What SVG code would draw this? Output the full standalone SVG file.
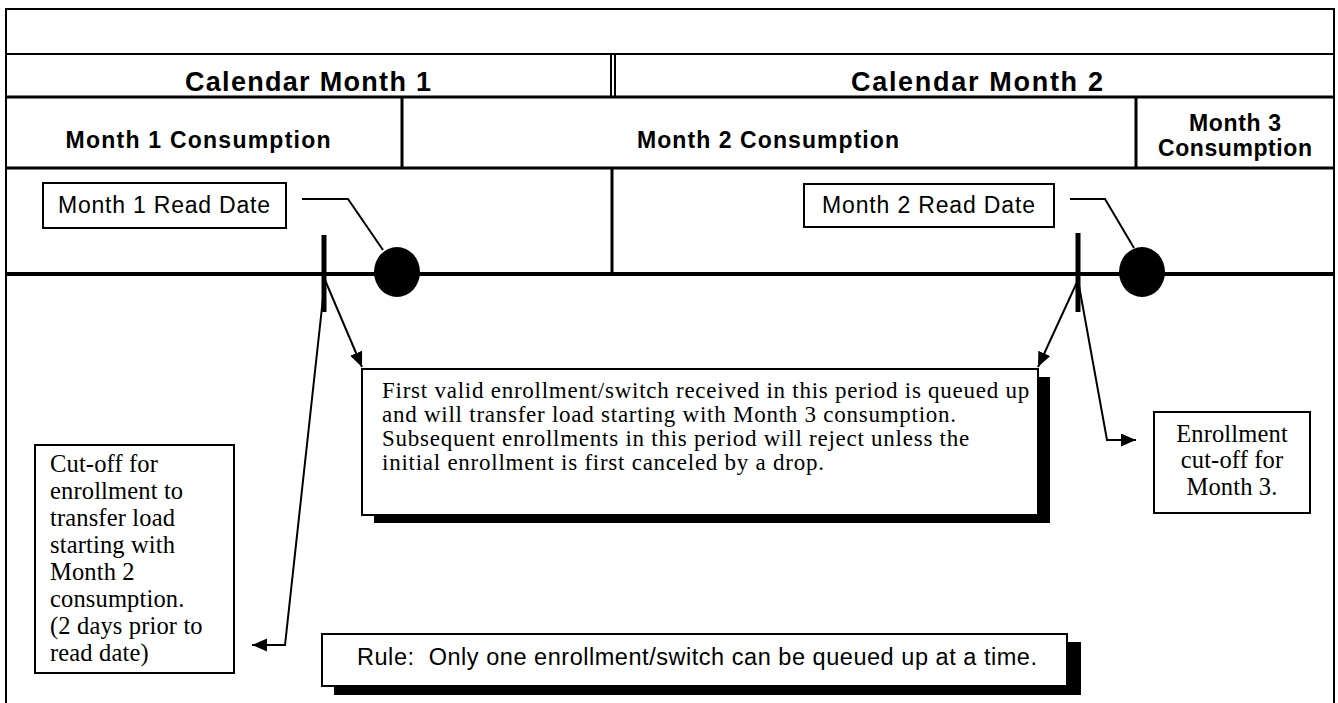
<svg xmlns="http://www.w3.org/2000/svg" width="1338" height="703" viewBox="0 0 1338 703">
  <style>
    .ln { fill: none; stroke: #000; stroke-width: 2; }
    .thick { fill: none; stroke: #000; stroke-width: 3; }
    .box { fill: #fff; stroke: #000; stroke-width: 2; }
    .shadow { fill: #000; stroke: none; }
    .hdr { font-family: "Liberation Sans", Arial, sans-serif; font-weight: bold; fill: #000; }
    .sans { font-family: "Liberation Sans", Arial, sans-serif; fill: #000; }
    .serif { font-family: "Liberation Serif", "Times New Roman", serif; font-size: 24.5px; letter-spacing: 0.15px; fill: #000; }
    .note { font-family: "Liberation Serif", "Times New Roman", serif; font-size: 23px; letter-spacing: 0.75px; fill: #000; }
    .conn { fill: none; stroke: #000; stroke-width: 2; }
  </style>
  <defs>
    <marker id="arrow" markerUnits="userSpaceOnUse" markerWidth="16" markerHeight="14" refX="15" refY="6.5" orient="auto">
      <path d="M0,0 L15,6.5 L0,13 z" fill="#000"/>
    </marker>
  </defs>
  <rect x="0" y="0" width="1338" height="703" fill="#fff"/>

  <g id="frame">
    <polyline class="ln" points="6,703 6,9 1334,9 1334,703"/>
    <line class="ln" x1="6" y1="54" x2="1334" y2="54"/>
  </g>

  <g id="calendar-month-1">
    <rect class="box" x="6" y="54" width="605" height="43"/>
    <text class="hdr" x="308" y="91" font-size="27" text-anchor="middle" textLength="246" lengthAdjust="spacing">Calendar Month 1</text>
  </g>
  <g id="calendar-month-2">
    <rect class="box" x="615" y="54" width="719" height="43"/>
    <text class="hdr" x="977" y="91" font-size="27" text-anchor="middle" textLength="252" lengthAdjust="spacing">Calendar Month 2</text>
  </g>
  <line class="thick" x1="6" y1="97" x2="1334" y2="97"/>

  <g id="month-1-consumption">
    <line class="thick" x1="402" y1="97" x2="402" y2="168"/>
    <text class="hdr" x="198" y="148" font-size="23" text-anchor="middle" textLength="265" lengthAdjust="spacing">Month 1 Consumption</text>
  </g>
  <g id="month-2-consumption">
    <text class="hdr" x="768" y="148" font-size="23" text-anchor="middle" textLength="262" lengthAdjust="spacing">Month 2 Consumption</text>
  </g>
  <g id="month-3-consumption">
    <line class="thick" x1="1136" y1="97" x2="1136" y2="168"/>
    <text class="hdr" x="1235" y="131" font-size="23" text-anchor="middle" textLength="92" lengthAdjust="spacing">Month 3</text>
    <text class="hdr" x="1235" y="156" font-size="23" text-anchor="middle" textLength="154" lengthAdjust="spacing">Consumption</text>
  </g>
  <line class="thick" x1="6" y1="168" x2="1334" y2="168"/>

  <g id="timeline">
    <line class="thick" x1="612" y1="168" x2="612" y2="274"/>
    <line x1="6" y1="274" x2="1334" y2="274" stroke="#000" stroke-width="4"/>
    <ellipse cx="397" cy="272" rx="23" ry="25" fill="#000"/>
    <ellipse cx="1142" cy="272" rx="23" ry="25" fill="#000"/>
    <line x1="324" y1="235" x2="324" y2="312" stroke="#000" stroke-width="5"/>
    <line x1="1078" y1="233" x2="1078" y2="312" stroke="#000" stroke-width="5"/>
  </g>

  <g id="month-1-read-date">
    <rect class="box" x="43" y="183" width="243" height="45"/>
    <text class="sans" x="58" y="213" font-size="23" textLength="212" lengthAdjust="spacing">Month 1 Read Date</text>
  </g>
  <g id="month-2-read-date">
    <rect class="box" x="804" y="184" width="250" height="43"/>
    <text class="sans" x="822" y="213" font-size="23" textLength="213" lengthAdjust="spacing">Month 2 Read Date</text>
  </g>

  <g id="queue-note">
    <rect class="shadow" x="374" y="377" width="676" height="146"/>
    <rect class="box" x="362" y="369" width="676" height="146"/>
    <text class="note" x="382" y="398">First valid enrollment/switch received in this period is queued up</text>
    <text class="note" x="382" y="422">and will transfer load starting with Month 3 consumption.</text>
    <text class="note" x="382" y="446">Subsequent enrollments in this period will reject unless the</text>
    <text class="note" x="382" y="470">initial enrollment is first canceled by a drop.</text>
  </g>

  <g id="cutoff-month-2">
    <rect class="box" x="35" y="445" width="199" height="228"/>
    <text class="serif" x="50" y="472">Cut-off for</text>
    <text class="serif" x="50" y="499">enrollment to</text>
    <text class="serif" x="50" y="526">transfer load</text>
    <text class="serif" x="50" y="553">starting with</text>
    <text class="serif" x="50" y="580">Month 2</text>
    <text class="serif" x="50" y="607">consumption.</text>
    <text class="serif" x="50" y="634">(2 days prior to</text>
    <text class="serif" x="50" y="661">read date)</text>
  </g>

  <g id="cutoff-month-3">
    <rect class="box" x="1154" y="412" width="156" height="101"/>
    <text class="serif" x="1232" y="442" text-anchor="middle">Enrollment</text>
    <text class="serif" x="1232" y="468" text-anchor="middle">cut-off for</text>
    <text class="serif" x="1232" y="495" text-anchor="middle">Month 3.</text>
  </g>

  <g id="rule">
    <rect class="shadow" x="334" y="642" width="747" height="53"/>
    <rect class="box" x="322" y="634" width="745" height="52"/>
    <text class="sans" x="357" y="665" font-size="23.5" textLength="680" lengthAdjust="spacing" xml:space="preserve" style="white-space: pre">Rule:  Only one enrollment/switch can be queued up at a time.</text>
  </g>

  <g id="connectors">
    <polyline class="conn" points="302,199 348,199 383,250"/>
    <polyline class="conn" points="1070,199 1105,199 1134,248"/>
    <line class="conn" x1="325" y1="280" x2="362" y2="367" marker-end="url(#arrow)"/>
    <polyline class="conn" points="325,280 285,645 252,645" marker-end="url(#arrow)"/>
    <line class="conn" x1="1078" y1="280" x2="1038" y2="367" marker-end="url(#arrow)"/>
    <polyline class="conn" points="1078,280 1107,440 1136,440" marker-end="url(#arrow)"/>
  </g>
</svg>
